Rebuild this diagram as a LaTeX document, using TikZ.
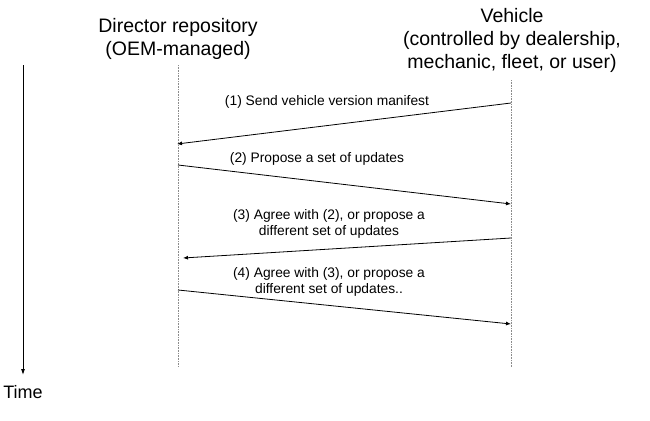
\documentclass[tikz,border=0pt]{standalone}
\usepackage{fontspec}
\setmainfont{Liberation Sans}
\usetikzlibrary{arrows.meta}
\begin{document}
\begin{tikzpicture}[x=1pt,y=-1pt,
  head/.style={align=center,font=\fontsize{19.5}{23}\selectfont,inner sep=0pt},
  lbl/.style={align=center,font=\fontsize{13.8}{16.5}\selectfont,inner sep=0pt},
  life/.style={draw=black!45,densely dotted,line width=0.6pt},
  msg/.style={draw=black,line width=0.8pt,-{Latex[length=5pt,width=4pt]}},
  timeax/.style={draw=black,line width=0.9pt,-{Latex[length=6pt,width=4pt]}}]
\useasboundingbox (0,0) rectangle (650,420);
% headings
\node[head] (dir) at (178,39) {Director repository\\(OEM-managed)};
\node[head] (veh) at (512,40) {Vehicle\\(controlled by dealership,\\mechanic, fleet, or user)};
% lifelines
\coordinate (dtop) at (178,65);
\coordinate (dbot) at (178,367);
\coordinate (vtop) at (511,80);
\coordinate (vbot) at (511,367);
\draw[life] (dtop) -- (dbot);
\draw[life] (vtop) -- (vbot);
% time axis
\coordinate (ttop) at (23,65);
\coordinate (tbot) at (23,375);
\draw[timeax] (ttop) -- (tbot);
\node[head,font=\fontsize{18}{21}\selectfont] (time) at (23,392) {Time};
% message end points
\coordinate (m1s) at (511,103);
\coordinate (m1e) at (177,144);
\coordinate (m2s) at (178,165);
\coordinate (m2e) at (511,204);
\coordinate (m3s) at (511,238);
\coordinate (m3e) at (183,258);
\coordinate (m4s) at (178,290);
\coordinate (m4e) at (511,324);
\draw[msg] (m1s) -- (m1e);
\draw[msg] (m2s) -- (m2e);
\draw[msg] (m3s) -- (m3e);
\draw[msg] (m4s) -- (m4e);
% labels
\node[lbl] (l1) at (327,102) {(1) Send vehicle version manifest};
\node[lbl] (l2) at (317,159) {(2) Propose a set of updates};
\node[lbl] (l3) at (329,224) {(3) Agree with (2), or propose a\\different set of updates};
\node[lbl] (l4) at (329,282) {(4) Agree with (3), or propose a\\different set of updates..};
\end{tikzpicture}
\end{document}
